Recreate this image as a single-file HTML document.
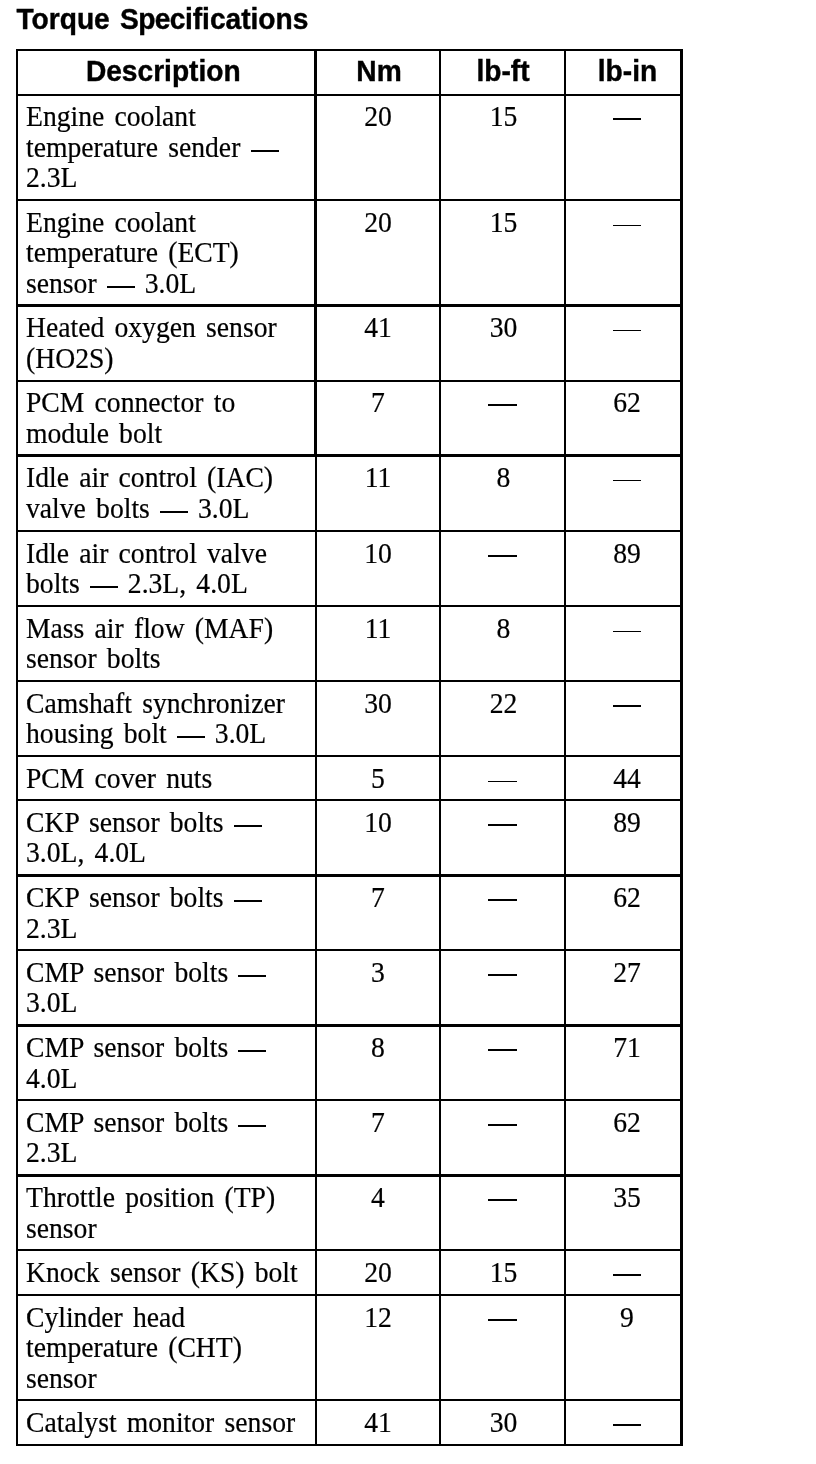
<!DOCTYPE html>
<html><head><meta charset="utf-8"><title>Torque Specifications</title>
<style>
html,body{margin:0;padding:0;background:#fff;}
body{width:816px;height:1464px;position:relative;overflow:hidden;color:#000;}
.l{position:absolute;background:#000;}
.t{position:absolute;font-family:"Liberation Serif",serif;font-size:27.65px;line-height:30px;height:30px;white-space:pre;word-spacing:3.3px;transform:scaleY(1.05);transform-origin:0 24.1px;-webkit-text-stroke:0.2px #000;}
.c{text-align:center;width:120px;}
.e{color:transparent;-webkit-text-stroke:0 transparent;}
.h{position:absolute;font-family:"Liberation Sans",sans-serif;font-weight:bold;white-space:pre;line-height:32px;height:32px;font-size:28.15px;transform:scaleY(1.07);transform-origin:0 25.76px;-webkit-text-stroke:0.4px #000;}
.hd{width:200px;text-align:center;top:56px;}
</style></head><body>
<div id="wrap" style="position:absolute;left:0;top:0;width:816px;height:1464px;will-change:transform">
<h1 class="h" style="left:16.5px;top:4px;margin:0;word-spacing:2.4px">Torque <span style="letter-spacing:-0.6px">Spec</span>ifications</h1>
<div id="grid">
<div class="l" style="left:16px;top:49px;width:667px;height:2px"></div>
<div class="l" style="left:16px;top:94px;width:667px;height:2px"></div>
<div class="l" style="left:16px;top:199px;width:667px;height:2px"></div>
<div class="l" style="left:16px;top:304px;width:667px;height:3px"></div>
<div class="l" style="left:16px;top:380px;width:667px;height:2px"></div>
<div class="l" style="left:16px;top:454px;width:667px;height:3px"></div>
<div class="l" style="left:16px;top:530px;width:667px;height:2px"></div>
<div class="l" style="left:16px;top:605px;width:667px;height:2px"></div>
<div class="l" style="left:16px;top:680px;width:667px;height:2px"></div>
<div class="l" style="left:16px;top:755px;width:667px;height:2px"></div>
<div class="l" style="left:16px;top:799px;width:667px;height:2px"></div>
<div class="l" style="left:16px;top:874px;width:667px;height:3px"></div>
<div class="l" style="left:16px;top:949px;width:667px;height:2px"></div>
<div class="l" style="left:16px;top:1024px;width:667px;height:3px"></div>
<div class="l" style="left:16px;top:1099px;width:667px;height:2px"></div>
<div class="l" style="left:16px;top:1174px;width:667px;height:3px"></div>
<div class="l" style="left:16px;top:1249px;width:667px;height:2px"></div>
<div class="l" style="left:16px;top:1294px;width:667px;height:2px"></div>
<div class="l" style="left:16px;top:1399px;width:667px;height:2px"></div>
<div class="l" style="left:16px;top:1444px;width:667px;height:2px"></div>
<div class="l" style="left:16px;top:49px;width:2px;height:1397px"></div>
<div class="l" style="left:314px;top:49px;width:3px;height:408px"></div>
<div class="l" style="left:315px;top:457px;width:2px;height:989px"></div>
<div class="l" style="left:439px;top:49px;width:2px;height:1397px"></div>
<div class="l" style="left:564px;top:49px;width:2px;height:1397px"></div>
<div class="l" style="left:680px;top:49px;width:3px;height:1397px"></div>
</div>
<div class="h hd" style="left:63.3px">Description</div>
<div class="h hd" style="left:279px">Nm</div>
<div class="h hd" style="left:403px">lb-ft</div>
<div class="h hd" style="left:527.5px">lb-in</div>
<div class="t" style="left:26px;top:102px">Engine coolant</div>
<div class="t" style="left:26px;top:132.6px">temperature sender <span class="e">—</span></div>
<div class="t" style="left:26px;top:163.2px">2.3L</div>
<div class="t c" style="left:318px;top:102px">20</div>
<div class="t c" style="left:443.5px;top:102px">15</div>
<div class="l" style="left:613px;top:118px;width:28px;height:2px"></div>
<div class="t" style="left:26px;top:207.7px">Engine coolant</div>
<div class="t" style="left:26px;top:238.3px">temperature (ECT)</div>
<div class="t" style="left:26px;top:268.9px">sensor <span class="e">—</span> 3.0L</div>
<div class="t c" style="left:318px;top:207.7px">20</div>
<div class="t c" style="left:443.5px;top:207.7px">15</div>
<div class="l" style="left:613px;top:225px;width:28px;height:1px"></div>
<div class="t" style="left:26px;top:313.2px">Heated oxygen sensor</div>
<div class="t" style="left:26px;top:343.8px">(HO2S)</div>
<div class="t c" style="left:318px;top:313.2px">41</div>
<div class="t c" style="left:443.5px;top:313.2px">30</div>
<div class="l" style="left:613px;top:330px;width:28px;height:1px"></div>
<div class="t" style="left:26px;top:388.1px">PCM connector to</div>
<div class="t" style="left:26px;top:418.7px">module bolt</div>
<div class="t c" style="left:318px;top:388.1px">7</div>
<div class="l" style="left:488px;top:404px;width:29px;height:2px"></div>
<div class="t c" style="left:567px;top:388.1px">62</div>
<div class="t" style="left:26px;top:463.2px">Idle air control (IAC)</div>
<div class="t" style="left:26px;top:493.8px">valve bolts <span class="e">—</span> 3.0L</div>
<div class="t c" style="left:318px;top:463.2px">11</div>
<div class="t c" style="left:443.5px;top:463.2px">8</div>
<div class="l" style="left:613px;top:480px;width:28px;height:1px"></div>
<div class="t" style="left:26px;top:538.5px">Idle air control valve</div>
<div class="t" style="left:26px;top:569.1px">bolts <span class="e">—</span> 2.3L, 4.0L</div>
<div class="t c" style="left:318px;top:538.5px">10</div>
<div class="l" style="left:488px;top:555px;width:29px;height:2px"></div>
<div class="t c" style="left:567px;top:538.5px">89</div>
<div class="t" style="left:26px;top:613.5px">Mass air flow (MAF)</div>
<div class="t" style="left:26px;top:644.1px">sensor bolts</div>
<div class="t c" style="left:318px;top:613.5px">11</div>
<div class="t c" style="left:443.5px;top:613.5px">8</div>
<div class="l" style="left:613px;top:631px;width:28px;height:1px"></div>
<div class="t" style="left:26px;top:688.5px">Camshaft synchronizer</div>
<div class="t" style="left:26px;top:719.1px">housing bolt <span class="e">—</span> 3.0L</div>
<div class="t c" style="left:318px;top:688.5px">30</div>
<div class="t c" style="left:443.5px;top:688.5px">22</div>
<div class="l" style="left:613px;top:705px;width:28px;height:2px"></div>
<div class="t" style="left:26px;top:763.8px">PCM cover nuts</div>
<div class="t c" style="left:318px;top:763.8px">5</div>
<div class="l" style="left:488px;top:781px;width:29px;height:1px"></div>
<div class="t c" style="left:567px;top:763.8px">44</div>
<div class="t" style="left:26px;top:807.5px">CKP sensor bolts <span class="e">—</span></div>
<div class="t" style="left:26px;top:838.1px">3.0L, 4.0L</div>
<div class="t c" style="left:318px;top:807.5px">10</div>
<div class="l" style="left:488px;top:824px;width:29px;height:2px"></div>
<div class="t c" style="left:567px;top:807.5px">89</div>
<div class="t" style="left:26px;top:883.2px">CKP sensor bolts <span class="e">—</span></div>
<div class="t" style="left:26px;top:913.8px">2.3L</div>
<div class="t c" style="left:318px;top:883.2px">7</div>
<div class="l" style="left:488px;top:899px;width:29px;height:2px"></div>
<div class="t c" style="left:567px;top:883.2px">62</div>
<div class="t" style="left:26px;top:957.5px">CMP sensor bolts <span class="e">—</span></div>
<div class="t" style="left:26px;top:988.1px">3.0L</div>
<div class="t c" style="left:318px;top:957.5px">3</div>
<div class="l" style="left:488px;top:974px;width:29px;height:2px"></div>
<div class="t c" style="left:567px;top:957.5px">27</div>
<div class="t" style="left:26px;top:1033.2px">CMP sensor bolts <span class="e">—</span></div>
<div class="t" style="left:26px;top:1063.8px">4.0L</div>
<div class="t c" style="left:318px;top:1033.2px">8</div>
<div class="l" style="left:488px;top:1049px;width:29px;height:2px"></div>
<div class="t c" style="left:567px;top:1033.2px">71</div>
<div class="t" style="left:26px;top:1107.5px">CMP sensor bolts <span class="e">—</span></div>
<div class="t" style="left:26px;top:1138.1px">2.3L</div>
<div class="t c" style="left:318px;top:1107.5px">7</div>
<div class="l" style="left:488px;top:1124px;width:29px;height:2px"></div>
<div class="t c" style="left:567px;top:1107.5px">62</div>
<div class="t" style="left:26px;top:1183.2px">Throttle position (TP)</div>
<div class="t" style="left:26px;top:1213.8px">sensor</div>
<div class="t c" style="left:318px;top:1183.2px">4</div>
<div class="l" style="left:488px;top:1199px;width:29px;height:2px"></div>
<div class="t c" style="left:567px;top:1183.2px">35</div>
<div class="t" style="left:26px;top:1257.8px">Knock sensor (KS) bolt</div>
<div class="t c" style="left:318px;top:1257.8px">20</div>
<div class="t c" style="left:443.5px;top:1257.8px">15</div>
<div class="l" style="left:613px;top:1274px;width:28px;height:2px"></div>
<div class="t" style="left:26px;top:1302.5px">Cylinder head</div>
<div class="t" style="left:26px;top:1333.1px">temperature (CHT)</div>
<div class="t" style="left:26px;top:1363.7px">sensor</div>
<div class="t c" style="left:318px;top:1302.5px">12</div>
<div class="l" style="left:488px;top:1319px;width:29px;height:2px"></div>
<div class="t c" style="left:567px;top:1302.5px">9</div>
<div class="t" style="left:26px;top:1407.5px">Catalyst monitor sensor</div>
<div class="t c" style="left:318px;top:1407.5px">41</div>
<div class="t c" style="left:443.5px;top:1407.5px">30</div>
<div class="l" style="left:613px;top:1424px;width:28px;height:2px"></div>
<div class="l" style="left:251px;top:150px;width:28px;height:2px"></div>
<div class="l" style="left:107px;top:286px;width:28px;height:2px"></div>
<div class="l" style="left:160px;top:511px;width:28px;height:2px"></div>
<div class="l" style="left:90px;top:586px;width:28px;height:2px"></div>
<div class="l" style="left:177px;top:736px;width:28px;height:2px"></div>
<div class="l" style="left:234px;top:825px;width:28px;height:2px"></div>
<div class="l" style="left:234px;top:900px;width:28px;height:2px"></div>
<div class="l" style="left:238px;top:975px;width:28px;height:2px"></div>
<div class="l" style="left:238px;top:1050px;width:28px;height:2px"></div>
<div class="l" style="left:238px;top:1125px;width:28px;height:2px"></div>
</div>
</body></html>
